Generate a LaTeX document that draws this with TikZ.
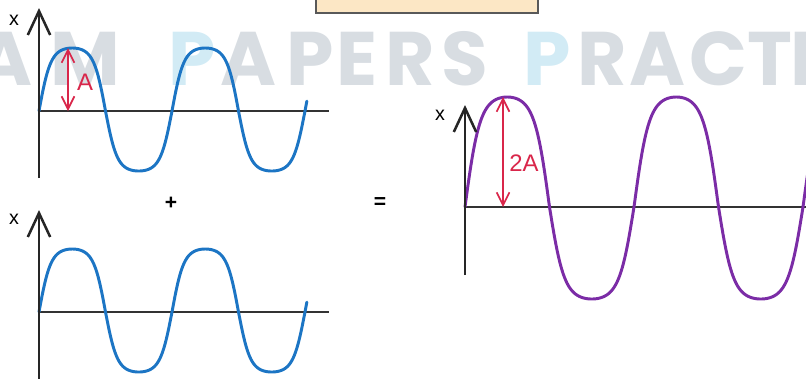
\documentclass[tikz,border=0pt]{standalone}
\usepackage{fontspec}
\setmainfont{Liberation Sans}
\newfontfamily\wmfont{Poppins}
\usepackage{tikz}
\usetikzlibrary{arrows.meta}
\definecolor{waveblue}{HTML}{1C75C4}
\definecolor{wavepurple}{HTML}{7B2CA6}
\definecolor{ampred}{HTML}{D9264A}
\definecolor{wmgray}{HTML}{D8DDE2}
\definecolor{wmblue}{HTML}{D2EBF5}
\definecolor{boxfill}{HTML}{FCE7C5}

\begin{document}
\begin{tikzpicture}[x=0.025cm, y=-0.025cm,
    axis/.style={draw=black!85, line width=1.8pt, -{Straight Barb[length=6mm, width=5.6mm]}},
    axisline/.style={draw=black!80, line width=1.4pt},
    wave/.style={line width=2.1pt, line join=round, line cap=round},
    amp/.style={draw=ampred, line width=1.2pt, {Straight Barb[length=3.2mm, width=3.2mm]}-{Straight Barb[length=3.2mm, width=3.2mm]}},
    lbl/.style={inner sep=0pt, font=\fontsize{14}{16}\selectfont},
    amplbl/.style={inner sep=0pt, text=ampred, font=\fontsize{17}{20}\selectfont},
    wmletter/.style={inner sep=0pt, anchor=base, font=\fontsize{54}{60}\selectfont\wmfont\bfseries}
]
    \useasboundingbox (0,0) rectangle (806,378);
    \clip (0,0) rectangle (806,378);

    % Watermark and top box
    \foreach \ch/\cx/\col [count=\i] in {A/4/wmgray, M/85/wmgray, P/192/wmblue, A/248/wmgray,
        P/310/wmgray, E/357/wmgray, R/410/wmgray, S/465/wmgray, P/547/wmblue, R/602/wmgray,
        A/657/wmgray, C/718/wmgray, T/770/wmgray, I/802/wmgray}
        \node (wm\i) [wmletter, text=\col] at (\cx,85) {\ch};
    \draw[draw=black!65, fill=boxfill, line width=1pt] (316,-10) rectangle (538,13);

    % Axes
    \coordinate (top1) at (39,8);
    \coordinate (bot1) at (39,178);
    \coordinate (o1) at (39,111);
    \coordinate (end1) at (329,111);
    \coordinate (top2) at (39,210);
    \coordinate (bot2) at (39,380);
    \coordinate (o2) at (39,312);
    \coordinate (end2) at (329,312);
    \coordinate (top3) at (465,105);
    \coordinate (bot3) at (465,275);
    \coordinate (o3) at (465,207);
    \coordinate (end3) at (810,207);

    \draw[axisline] (o1) -- (end1);
    \draw[axisline] (o2) -- (end2);
    \draw[axisline] (o3) -- (end3);

    % Waves
    \draw[wave, waveblue] plot[domain=0:725, samples=260]
        ({39+\x/180*66.5}, {111-(sin(\x)>0 ? 63 : 60)*tanh(1.7*sin(\x))/tanh(1.7)});
    \draw[wave, waveblue] plot[domain=0:725, samples=260]
        ({39+\x/180*66.5}, {312-(sin(\x)>0 ? 63 : 60)*tanh(1.7*sin(\x))/tanh(1.7)});
    \draw[wave, wavepurple] plot[domain=0:730, samples=280]
        ({465+\x/180*84.5}, {207-(sin(\x)>0 ? 110 : 92)*tanh(1.7*sin(\x))/tanh(1.7)});

    \draw[axis] (bot1) -- (top1);
    \draw[axis] (bot2) -- (top2);
    \draw[axis] (bot3) -- (top3);

    % Labels
    \node (x1) [lbl] at (14,20) {x};
    \node (x2) [lbl] at (14,219) {x};
    \node (x3) [lbl] at (440,115) {x};
    \node (plus) [lbl, font=\fontsize{15}{17}\selectfont\bfseries] at (171,203) {+};
    \node (equals) [lbl, font=\fontsize{15}{17}\selectfont\bfseries] at (380,203) {=};

    % Amplitudes
    \coordinate (pk1) at (68,48);
    \coordinate (ft1) at (68,111);
    \coordinate (pk3) at (503,97);
    \coordinate (ft3) at (503,207);
    \draw[amp] (ft1) -- (pk1);
    \draw[amp] (ft3) -- (pk3);
    \node (amp1) [amplbl] at (85,82) {A};
    \node (amp3) [amplbl] at (524,163) {2A};
\end{tikzpicture}
\end{document}
